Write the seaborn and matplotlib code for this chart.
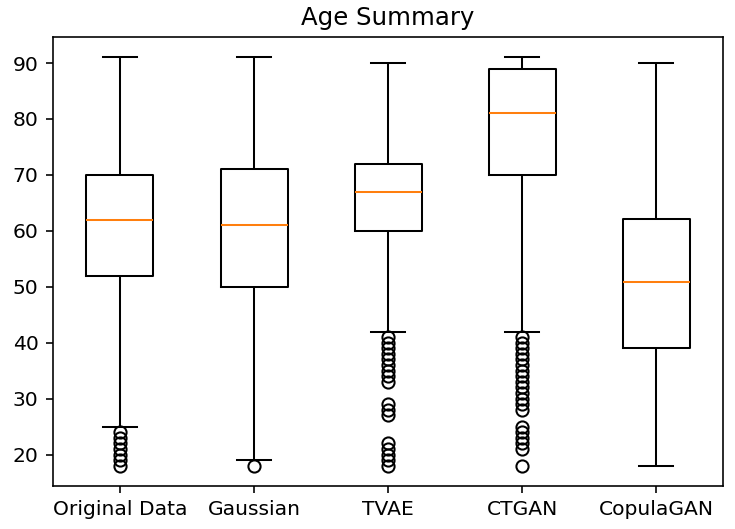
import matplotlib
matplotlib.use("Agg")
import matplotlib.pyplot as plt
import seaborn as sns
import pandas as pd

# ---- data ----
models = ["Original Data", "Gaussian", "TVAE", "CTGAN", "CopulaGAN"]
whisker_low = [25, 19, 42, 42, 18]
q1 = [52, 50, 60, 70, 39]
median = [62, 61, 67, 81, 50.8]
q3 = [70, 71, 72, 89, 62.2]
whisker_high = [91, 91, 90, 91, 90]
outliers = [
    [18, 19, 20, 21, 22, 23, 24],
    [18],
    [18, 19, 20, 21, 22, 27, 28, 29, 33, 34, 35, 36, 37, 38, 39, 40, 41],
    [18, 21, 22, 23, 24, 25, 28, 29, 30, 31, 32, 33, 34, 35, 36, 37, 38, 39, 40, 41],
    [],
]

# Build a long-form table whose box statistics reproduce the values above
rows = []
for i, m in enumerate(models):
    vals = (list(outliers[i]) + [whisker_low[i]] + [q1[i]] * 100 + [median[i]] * 100
            + [q3[i]] * 100 + [whisker_high[i]])
    rows += [(m, v) for v in vals]
df = pd.DataFrame(rows, columns=["model", "Age"])

fig = plt.figure(figsize=(735 / 146, 529 / 146), dpi=146)
ax = fig.add_axes([0.072, 0.081, 0.912, 0.849])

sns.boxplot(
    data=df, x="model", y="Age", order=models, ax=ax,
    fill=False, color="black", width=0.5, linewidth=1, whis=1.5,
    fliersize=6,
    medianprops={"color": "#ff7f0e", "linewidth": 1},
    flierprops={"marker": "o", "markerfacecolor": "none",
                "markeredgecolor": "black", "markeredgewidth": 1},
)
ax.set_xlabel("")
ax.set_ylabel("")
ax.set_title("Age Summary", fontsize=12)
fig.savefig("out.png", dpi=146)
